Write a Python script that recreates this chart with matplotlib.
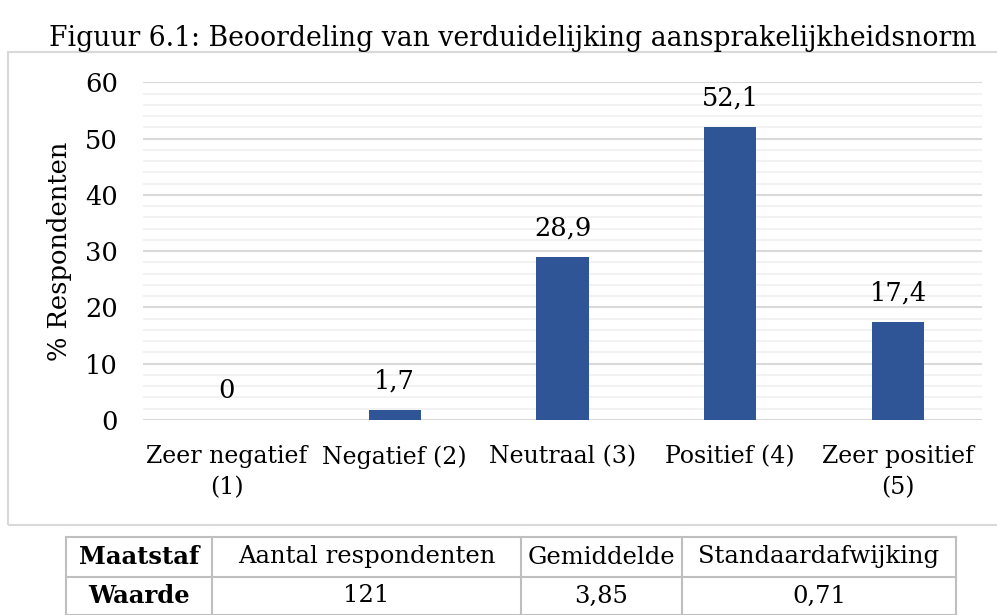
import matplotlib
matplotlib.use("Agg")
import matplotlib.pyplot as plt
from matplotlib.lines import Line2D
from matplotlib.patches import Rectangle
from matplotlib.ticker import MultipleLocator

categories = ["Zeer negatief\n(1)", "Negatief (2)", "Neutraal (3)", "Positief (4)", "Zeer positief\n(5)"]
values = [0, 1.7, 28.9, 52.1, 17.4]
value_labels = ["0", "1,7", "28,9", "52,1", "17,4"]
title = "Figuur 6.1: Beoordeling van verduidelijking aansprakelijkheidsnorm"
ylabel = "% Respondenten"
table_header = ["Maatstaf", "Aantal respondenten", "Gemiddelde", "Standaardafwijking"]
table_values = ["Waarde", "121", "3,85", "0,71"]

W, H = 997, 615
FONT = "DejaVu Serif"
FS = 18.5
BAR = "#2F5597"

fig = plt.figure(figsize=(W / 100, H / 100), dpi=100)

def fx(px):
    return px / W

def fy(py):
    return 1 - py / H

# chart frame
fig.add_artist(Rectangle((fx(8), fy(525)), fx(1010) - fx(8), fy(52) - fy(525),
                         transform=fig.transFigure, fill=False, edgecolor="#d9d9d9", lw=1.5))

ax = fig.add_axes([fx(143), fy(420), fx(982) - fx(143), fy(82.3) - fy(420)])
x = list(range(len(categories)))
ax.bar(x, values, width=0.31, color=BAR, zorder=3)
ax.set_xlim(-0.5, len(categories) - 0.5)
ax.set_ylim(0, 60)
ax.yaxis.set_major_locator(MultipleLocator(10))
ax.yaxis.set_minor_locator(MultipleLocator(2))
ax.grid(axis="y", which="major", color="#d9d9d9", lw=1.5, zorder=1)
ax.grid(axis="y", which="minor", color="#f2f2f2", lw=1.5, zorder=0)
for s in ax.spines.values():
    s.set_visible(False)
ax.tick_params(axis="both", which="both", length=0)
ax.tick_params(axis="y", pad=18)
ax.tick_params(axis="x", pad=18)
ax.set_xticks(x)
ax.set_xticklabels(categories, fontsize=17, family=FONT, linespacing=1.45)
for t in ax.get_yticklabels():
    t.set_fontsize(FS)
    t.set_family(FONT)
for xi, v, lab in zip(x, values, value_labels):
    ax.annotate(lab, (xi, v), xytext=(0, 12), textcoords="offset points",
                ha="center", va="bottom", fontsize=FS, family=FONT)

fig.text(fx(60), fy(251), ylabel, rotation=90, ha="center", va="center",
         fontsize=FS, family=FONT)
fig.text(fx(513), fy(46), title, ha="center", va="baseline", fontsize=19.2, family=FONT)

# summary table
cols = [66, 212, 521, 682, 956]
rows = [537, 577, 615]
lc = "#bfbfbf"
for c in cols:
    fig.add_artist(Line2D([fx(c), fx(c)], [fy(rows[0]), fy(rows[-1])], color=lc, lw=1.5,
                          transform=fig.transFigure))
for r in rows:
    fig.add_artist(Line2D([fx(cols[0]), fx(cols[-1])], [fy(r), fy(r)], color=lc, lw=1.5,
                          transform=fig.transFigure))
for row_texts, (r0, r1) in zip([table_header, table_values], [(rows[0], rows[1]), (rows[1], rows[2])]):
    for i, txt in enumerate(row_texts):
        cx = (cols[i] + cols[i + 1]) / 2
        cy = (r0 + r1) / 2
        fig.text(fx(cx), fy(cy), txt, ha="center", va="center",
                 fontsize=17.5, family=FONT,
                 weight="bold" if i == 0 else "normal")

fig.savefig("out.png", dpi=100)
